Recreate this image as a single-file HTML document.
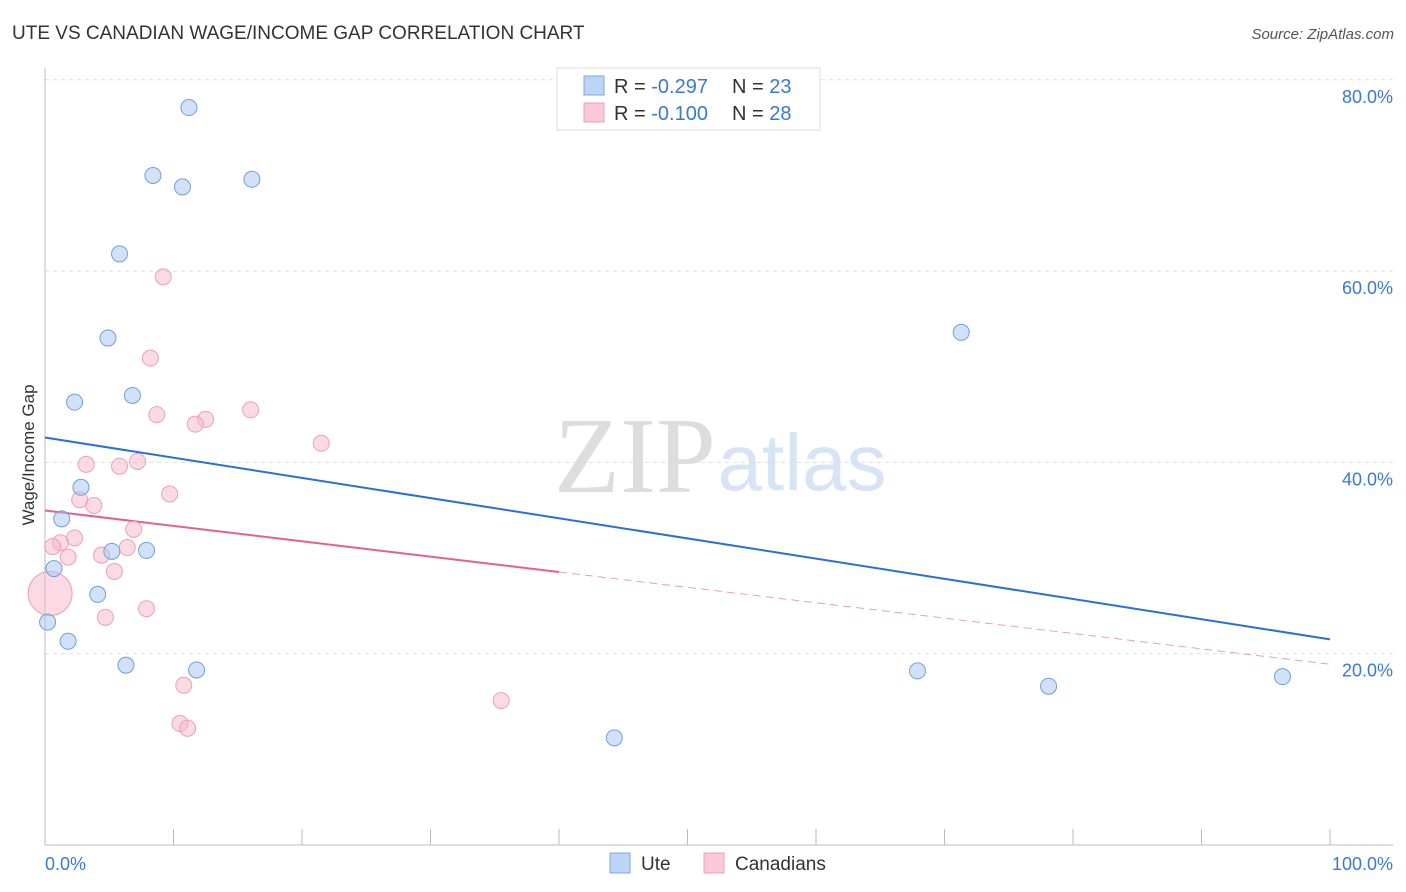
<!DOCTYPE html>
<html><head><meta charset="utf-8"><style>
body{margin:0;background:#fff;font-family:"Liberation Sans",sans-serif;}
svg{display:block}
</style></head><body>
<svg id="chart" width="1406" height="892" xmlns="http://www.w3.org/2000/svg">
<text x="12" y="39" font-size="19" fill="#333">UTE VS CANADIAN WAGE/INCOME GAP CORRELATION CHART</text>
<text x="1394" y="39" font-size="15" fill="#555" font-style="italic" text-anchor="end">Source: ZipAtlas.com</text>
<g>
<text x="635" y="492" font-size="108" fill="#ddd" font-family="Liberation Serif,serif" text-anchor="middle">ZIP</text>
<text x="802" y="490" font-size="80" fill="#d6e4f5" text-anchor="middle">atlas</text>
</g>
<g id="grid"></g>
<g id="axes"></g>
<g id="lines"></g>
<g id="points"></g>
<text transform="translate(34,455) rotate(-90)" font-size="17" fill="#333" text-anchor="middle">Wage/Income Gap</text>
<text x="45" y="870" font-size="18" fill="#3a78d8">0.0%</text>
<text x="1393" y="870" font-size="18" fill="#3a78d8" text-anchor="end">100.0%</text>
<g>
<rect x="557" y="68" width="263" height="62" fill="#fff" stroke="#ddd"/>
<rect x="584" y="76" width="20" height="19" fill="#bcd4f6" stroke="#7aa9e0"/>
<rect x="584" y="103" width="20" height="19" fill="#fac8d6" stroke="#eaa0b8"/>
<text x="614" y="93" font-size="20" fill="#333">R = <tspan fill="#3a78d8">-0.297</tspan><tspan dx="24">N = </tspan><tspan fill="#3a78d8">23</tspan></text>
<text x="614" y="120" font-size="20" fill="#333">R = <tspan fill="#3a78d8">-0.100</tspan><tspan dx="24">N = </tspan><tspan fill="#3a78d8">28</tspan></text>
</g>
<g>
<rect x="610" y="853" width="20" height="20" fill="#bcd4f6" stroke="#7aa9e0"/>
<text x="641" y="870" font-size="19" fill="#333">Ute</text>
<rect x="704" y="853" width="20" height="20" fill="#fac8d6" stroke="#eaa0b8"/>
<text x="735" y="870" font-size="19" fill="#333">Canadians</text>
</g>
</svg>
<script>
const yTicks=[20,40,60,80];
const yTickLabels=["20.0%","40.0%","60.0%","80.0%"];
const xTicks=[0,10,20,30,40,50,60,70,80,90,100];
const uteX=[11.2,8.4,10.7,16.1,5.8,4.9,2.3,6.8,2.8,1.3,5.2,7.9,0.7,4.1,0.2,1.8,6.3,11.8,71.3,67.9,78.1,96.3,44.3];
const uteY=[77.1,70.0,68.8,69.6,61.8,53.0,46.3,47.0,37.4,34.1,30.7,30.8,28.9,26.2,23.3,21.3,18.8,18.3,53.6,18.2,16.6,17.6,11.2];
const canX=[9.2,8.2,8.7,16.0,12.5,11.7,21.5,3.2,5.8,7.2,9.7,2.7,3.8,6.9,2.3,1.2,0.6,1.8,4.4,6.4,5.4,0.4,7.9,4.7,10.8,35.5,10.5,11.1];
const canY=[59.4,50.9,45.0,45.5,44.5,44.0,42.0,39.8,39.6,40.1,36.7,36.1,35.5,33.0,32.1,31.6,31.2,30.1,30.3,31.1,28.6,26.3,24.7,23.8,16.7,15.1,12.7,12.2];
const canSize=[8,8,8,8,8,8,8,8,8,8,8,8,8,8,8,8,8,8,8,8,8,22,8,8,8,8,8,8];
const uteTrend=[42.6,21.5];
const canTrend=[34.97,18.9];
const canSolidEnd=40;
const NS="http://www.w3.org/2000/svg";
const X=v=>45+v/100*1285;
const Y=v=>845-v/20*191.3;
function mk(tag,attrs,parent){const e=document.createElementNS(NS,tag);for(const k in attrs)e.setAttribute(k,attrs[k]);document.getElementById(parent).appendChild(e);return e;}
yTicks.forEach((t,i)=>{
 const g=mk('line',{x1:45,x2:1393,y1:Y(t),y2:Y(t),stroke:'#ddd','stroke-dasharray':'4,4'},'grid');
 
 
 const l=mk('text',{x:1393,y:Y(t)+23,'font-size':18,fill:'#3a78d8','text-anchor':'end'},'grid');
 l.textContent=yTickLabels[i];
 
 
});
const xa=mk('line',{x1:45,x2:1393,y1:845,y2:845,stroke:'#bbb'},'axes');


const ya=mk('line',{x1:45,x2:45,y1:68,y2:845,stroke:'#bbb'},'axes');


xTicks.forEach(t=>{
 const k=mk('line',{x1:X(t),x2:X(t),y1:829,y2:845,stroke:'#bbb'},'axes');
 
 
});
const ut=mk('line',{x1:X(0),y1:Y(uteTrend[0]),x2:X(100),y2:Y(uteTrend[1]),stroke:'#2a6fd6','stroke-width':2},'lines');


const cm=canTrend[0]+(canTrend[1]-canTrend[0])*canSolidEnd/100;
const ct=mk('line',{x1:X(0),y1:Y(canTrend[0]),x2:X(canSolidEnd),y2:Y(cm),stroke:'#e8608a','stroke-width':2},'lines');


const cd=mk('line',{x1:X(canSolidEnd),y1:Y(cm),x2:X(100),y2:Y(canTrend[1]),stroke:'#e8a0b8','stroke-width':1,'stroke-dasharray':'8,5'},'lines');


canX.forEach((v,i)=>{
 const c=mk('circle',{cx:X(v),cy:Y(canY[i]),r:canSize[i],fill:'rgba(248,182,202,0.5)',stroke:'#eaa0b8','stroke-width':1},'points');
 
 
});
uteX.forEach((v,i)=>{
 const c=mk('circle',{cx:X(v),cy:Y(uteY[i]),r:8,fill:'rgba(164,198,242,0.5)',stroke:'#6f9fdc','stroke-width':1},'points');
 
 
});
</script>
</body></html>
